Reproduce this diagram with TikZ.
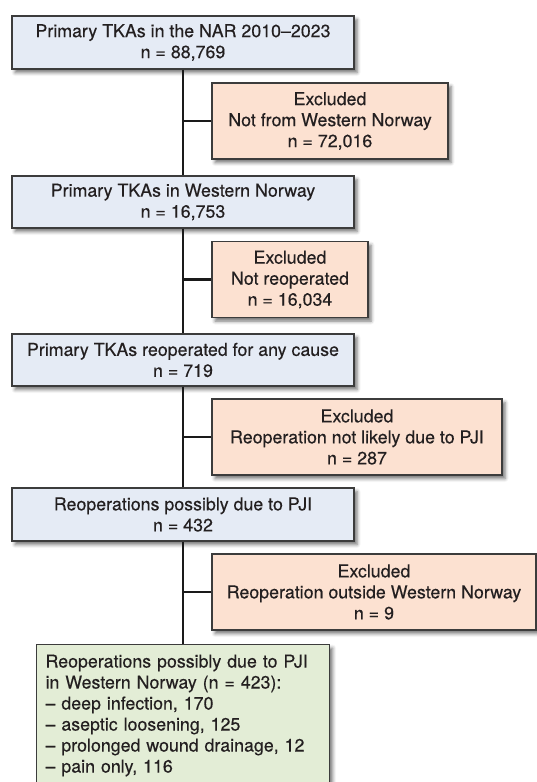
\documentclass[tikz,border=0pt]{standalone}
\usepackage{fontspec}
\setmainfont[FakeBold=0.35]{TeX Gyre Heros}
\usetikzlibrary{shadows.blur}
\definecolor{bluefill}{HTML}{E5EBF5}
\definecolor{salmonfill}{HTML}{FCE1D1}
\definecolor{greenfill}{HTML}{E3EDD6}
\definecolor{boxline}{HTML}{3C3C3C}
\definecolor{textcol}{HTML}{231F20}
\definecolor{spinecol}{HTML}{1A1A1A}
\begin{document}
\begin{tikzpicture}[x=1pt,y=-1pt,
  basebox/.style={draw=boxline, line width=1.1pt, inner sep=0pt, text=textcol,
    font=\fontsize{17.8}{21}\selectfont,
    blur shadow={shadow xshift=3pt, shadow yshift=-3.5pt, shadow blur radius=3.5pt, shadow opacity=55}},
  mainbox/.style={basebox, fill=bluefill, align=center, minimum width=342pt},
  exclbox/.style={basebox, fill=salmonfill, align=center, minimum height=76pt},
  finalbox/.style={basebox, fill=greenfill, align=left, text width=275pt, inner xsep=9pt, inner ysep=10pt},
  spine/.style={draw=spinecol, line width=2.8pt}
]
\useasboundingbox (0,0) rectangle (537,782);

\node[mainbox, minimum height=53pt] (b1) at (183,42.5) {Primary TKAs in the NAR 2010--2023\\n = 88,769};
\node[exclbox, minimum width=236pt] (e1) at (330,121) {Excluded\\Not from Western Norway\\n = 72,016};
\node[mainbox, minimum height=52pt] (b2) at (183,202) {Primary TKAs in Western Norway\\n = 16,753};
\node[exclbox, minimum width=156pt] (e2) at (290,279.5) {Excluded\\Not reoperated\\n = 16,034};
\node[mainbox, minimum height=52pt] (b3) at (183,360) {Primary TKAs reoperated for any cause\\n = 719};
\node[exclbox, minimum width=290pt] (e3) at (357,437) {Excluded\\Reoperation not likely due to PJI\\n = 287};
\node[mainbox, minimum height=53pt] (b4) at (183,514.5) {Reoperations possibly due to PJI\\n = 432};
\node[exclbox, minimum width=324pt] (e4) at (374,592) {Excluded\\Reoperation outside Western Norway\\n = 9};
\node[finalbox, anchor=north west] (g) at (36,644) {Reoperations possibly due to PJI\\in Western Norway (n = 423):\\-- deep infection, 170\\-- aseptic loosening, 125\\-- prolonged wound drainage, 12\\-- pain only, 116};

\draw[spine] (b1.south) -- (b2.north);
\draw[spine] (b2.south) -- (b3.north);
\draw[spine] (b3.south) -- (b4.north);
\draw[spine] (b4.south) -- (b4.south |- g.north);
\draw[spine] (e1.west) -- (e1.west -| b1.south);
\draw[spine] (e2.west) -- (e2.west -| b1.south);
\draw[spine] (e3.west) -- (e3.west -| b1.south);
\draw[spine] (e4.west) -- (e4.west -| b1.south);
\end{tikzpicture}
\end{document}
